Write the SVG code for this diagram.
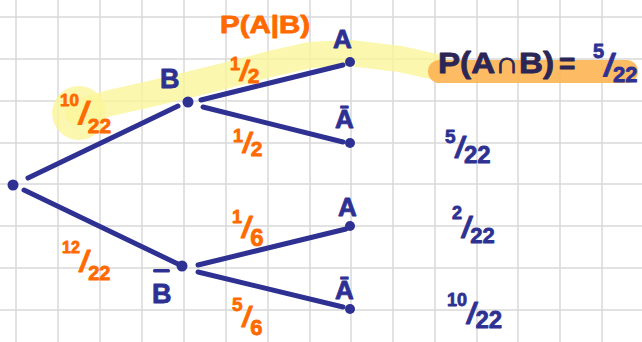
<svg xmlns="http://www.w3.org/2000/svg" width="642" height="342" viewBox="0 0 642 342">
<style>
.grid line{stroke:#d8d8d8;stroke-width:1.5}
.edge{stroke:#2e3192;stroke-width:5;stroke-linecap:round;fill:none}
.dot{fill:#2e3192}
.nav{fill:#2e3192;stroke:#2e3192;stroke-width:0.8;stroke-linejoin:round;font-family:"Liberation Sans",Arial,sans-serif;font-weight:bold}
.dark{fill:#2b2656;stroke:#2b2656;stroke-width:0.8;stroke-linejoin:round;font-family:"Liberation Sans",Arial,sans-serif;font-weight:bold}
.or{fill:#ff6a00;stroke:#ff6a00;stroke-width:0.8;stroke-linejoin:round;font-family:"Liberation Sans",Arial,sans-serif;font-weight:bold}
.sl{font-style:italic}
</style>
<rect width="642" height="342" fill="#ffffff"/>
<g class="grid">
<line x1="16" y1="0" x2="16" y2="342"/><line x1="58" y1="0" x2="58" y2="342"/><line x1="100" y1="0" x2="100" y2="342"/><line x1="142" y1="0" x2="142" y2="342"/><line x1="184" y1="0" x2="184" y2="342"/><line x1="226" y1="0" x2="226" y2="342"/><line x1="268" y1="0" x2="268" y2="342"/><line x1="310" y1="0" x2="310" y2="342"/><line x1="351" y1="0" x2="351" y2="342"/><line x1="393" y1="0" x2="393" y2="342"/><line x1="435" y1="0" x2="435" y2="342"/><line x1="477" y1="0" x2="477" y2="342"/><line x1="518" y1="0" x2="518" y2="342"/><line x1="560" y1="0" x2="560" y2="342"/><line x1="602" y1="0" x2="602" y2="342"/>
<line x1="0" y1="17" x2="642" y2="17"/><line x1="0" y1="59" x2="642" y2="59"/><line x1="0" y1="101" x2="642" y2="101"/><line x1="0" y1="143" x2="642" y2="143"/><line x1="0" y1="184" x2="642" y2="184"/><line x1="0" y1="226" x2="642" y2="226"/><line x1="0" y1="268" x2="642" y2="268"/><line x1="0" y1="310" x2="642" y2="310"/>
</g>
<g id="highlights">
<path d="M78 112 L110 103 L150 94 L200 82 L240 72 L270 64 L310 55 L350 53 L400 59 L436 67" stroke="#fbf59a" stroke-opacity="0.8" stroke-width="26" stroke-linecap="round" stroke-linejoin="round" fill="none"/>
<circle cx="79" cy="113" r="27" fill="#fbf59a" fill-opacity="0.8"/>
<rect x="428" y="60" width="210" height="23" rx="11.5" fill="#fdb24f" fill-opacity="0.88"/>
</g>
<g id="connectors">
<line class="edge" x1="28" y1="178" x2="178" y2="106"/>
<line class="edge" x1="24" y1="190" x2="178" y2="264"/>
<line class="edge" x1="201" y1="100" x2="343" y2="65"/>
<line class="edge" x1="203" y1="107" x2="343" y2="142"/>
<line class="edge" x1="198" y1="265" x2="346" y2="229"/>
<line class="edge" x1="198" y1="272" x2="343" y2="307"/>
</g>
<g id="root"><circle class="dot" cx="13" cy="185" r="5.5"/></g>
<g id="nodeB"><circle class="dot" cx="188" cy="102" r="5.5"/><text class="nav" x="160" y="88" font-size="27">B</text></g>
<g id="nodeBbar"><circle class="dot" cx="182" cy="266" r="5.5"/><text class="nav" x="152" y="303" font-size="27">B</text><rect x="153" y="269" width="17" height="3.5" rx="1.5" fill="#2e3192"/></g>
<g id="nodeA1"><circle class="dot" cx="350" cy="62" r="5"/><text class="nav" x="333" y="48" font-size="26">A</text></g>
<g id="nodeAbar1"><circle class="dot" cx="350" cy="143" r="5"/><text class="nav" x="335" y="128" font-size="26">Ā</text></g>
<g id="nodeA2"><circle class="dot" cx="350" cy="226" r="5"/><text class="nav" x="338" y="216" font-size="26">A</text></g>
<g id="nodeAbar2"><circle class="dot" cx="350" cy="309" r="5"/><text class="nav" x="335" y="299" font-size="26">Ā</text></g>
<g id="edge-labels">
<text class="or" x="220" y="33" font-size="24" textLength="90" lengthAdjust="spacingAndGlyphs">P(A|B)</text>
<text class="or" x="60" y="106"><tspan font-size="17">10</tspan><tspan class="sl" dy="18" font-size="32">/</tspan><tspan dy="9" font-size="21">22</tspan></text>
<text class="or" x="230" y="70"><tspan font-size="18">1</tspan><tspan class="sl" dy="10" font-size="28">/</tspan><tspan dy="3" font-size="21">2</tspan></text>
<text class="or" x="233" y="142"><tspan font-size="18">1</tspan><tspan class="sl" dy="10" font-size="28">/</tspan><tspan dy="4" font-size="21">2</tspan></text>
<text class="or" x="62" y="253"><tspan font-size="16">12</tspan><tspan class="sl" dy="19" font-size="30">/</tspan><tspan dy="8" font-size="20">22</tspan></text>
<text class="or" x="232" y="223"><tspan font-size="18">1</tspan><tspan class="sl" dy="15" font-size="30">/</tspan><tspan dy="8" font-size="24">6</tspan></text>
<text class="or" x="232" y="311"><tspan font-size="19">5</tspan><tspan class="sl" dy="15" font-size="28">/</tspan><tspan dy="9" font-size="22">6</tspan></text>
</g>
<g id="results">
<text class="dark" x="438" y="73" font-size="30" textLength="116" lengthAdjust="spacingAndGlyphs">P(A∩B)</text>
<text class="dark" x="559" y="73" font-size="28">=</text>
<text class="nav" x="593" y="58"><tspan font-size="20">5</tspan><tspan class="sl" dy="18" font-size="32">/</tspan><tspan dy="6" font-size="22">22</tspan></text>
<text class="nav" x="445" y="143"><tspan font-size="19">5</tspan><tspan class="sl" dy="15" font-size="30">/</tspan><tspan dy="5" font-size="24">22</tspan></text>
<text class="nav" x="452" y="219"><tspan font-size="18">2</tspan><tspan class="sl" dy="19" font-size="30">/</tspan><tspan dy="5" font-size="22">22</tspan></text>
<text class="nav" x="447" y="306"><tspan font-size="18">10</tspan><tspan class="sl" dy="18" font-size="30">/</tspan><tspan dy="4" font-size="24">22</tspan></text>
</g>
</svg>
